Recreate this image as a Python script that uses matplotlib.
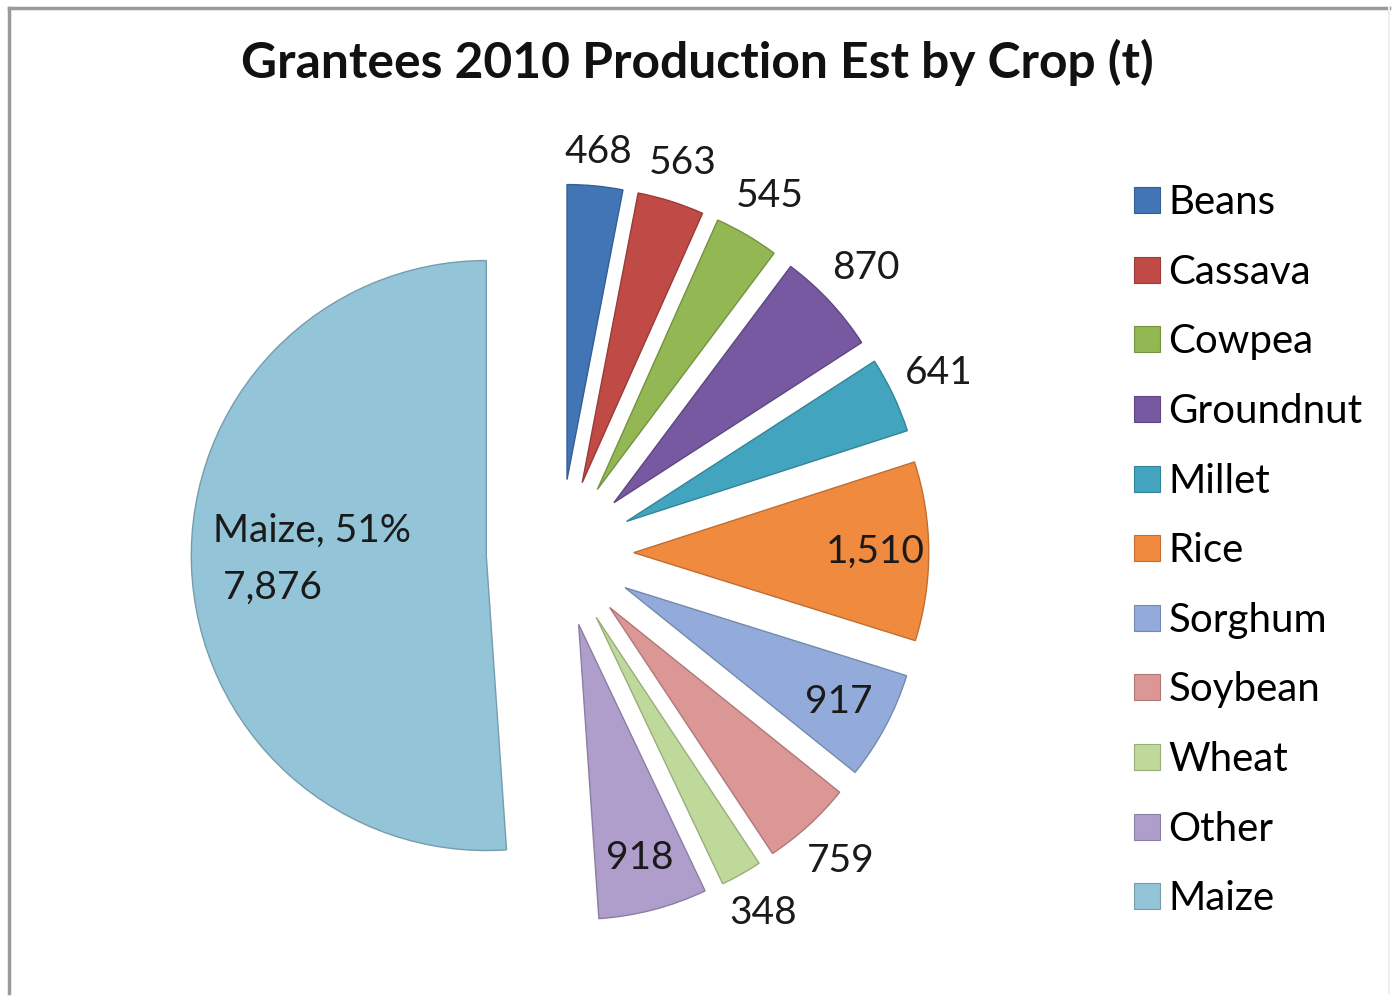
import numpy as np
import matplotlib
matplotlib.use("Agg")
import matplotlib.pyplot as plt
from matplotlib.lines import Line2D
from matplotlib.colors import to_rgb

plt.rcParams['font.family'] = ['Lato', 'DejaVu Sans']

crops = ["Beans", "Cassava", "Cowpea", "Groundnut", "Millet", "Rice",
         "Sorghum", "Soybean", "Wheat", "Other", "Maize"]
tonnes = [468, 563, 545, 870, 641, 1510, 917, 759, 348, 918, 7876]
colors = ["#4275B6", "#BF4A46", "#92B753", "#7659A0", "#42A4BF", "#F08A3E",
          "#92ABDA", "#DB9795", "#BFD99A", "#AF9ECB", "#93C4D8"]
# labels drawn inside the slice
inside = ["Rice", "Sorghum", "Other"]

W, H = 1394, 998
fig = plt.figure(figsize=(W / 100, H / 100), dpi=100)
ax = fig.add_axes([0, 0, 1, 1])

cx, cy, R = 560, H - 553, 295
# pie explode is in data units here, so scale by radius
explode = [0.25 * R] * len(tonnes)
edges = [tuple(c * 0.8 for c in to_rgb(col)) for col in colors]

wedges, _ = ax.pie(tonnes, colors=colors, explode=explode, startangle=90,
                   counterclock=False, radius=R, center=(cx, cy),
                   wedgeprops=dict(linewidth=1.0))
for w, ec in zip(wedges, edges):
    w.set_edgecolor(ec)

ax.set_xlim(0, W)
ax.set_ylim(0, H)
ax.set_aspect('equal')
ax.axis('off')

total = sum(tonnes)
for w, crop, val in zip(wedges, crops, tonnes):
    ang = np.deg2rad((w.theta1 + w.theta2) / 2)
    c, s = np.cos(ang), np.sin(ang)
    wx, wy = w.center
    if crop == "Maize":
        r = 0.59 * R
        txt = f"{crop}, {val / total:.0%}\n {val:,}"
        ax.text(wx + r * c, wy + r * s + 2, txt,
                ha='center', va='center', ma='left', fontsize=28,
                color='#1a1a1a', linespacing=1.72)
        continue
    txt = f"{val:,}"
    if crop in inside:
        r = 0.82 * R
    else:
        # outside end: clear the arc by a gap plus half the text box
        half_w, half_h = 10.7 * len(txt), 17
        r = R + 14 + abs(c) * half_w + abs(s) * half_h
    ax.text(wx + r * c, wy + r * s, txt,
            ha='center', va='center', fontsize=28, color='#1a1a1a')

handles = [Line2D([], [], marker='s', linestyle='none', markersize=18.5,
                  markerfacecolor=c, markeredgecolor=e, markeredgewidth=0.8)
           for c, e in zip(colors, edges)]
fig.legend(handles, crops, loc='upper left', bbox_to_anchor=(1112 / W, 1 - 168 / H),
           frameon=False, fontsize=29, labelspacing=0.81, handletextpad=0.05,
           handlelength=0.95, borderaxespad=0)

fig.text(0.5, 1 - 62 / H, "Grantees 2010 Production Est by Crop (t)",
         ha='center', va='center', fontsize=35.8, fontweight='bold', color='#111111')

# chart border
fig.add_artist(Line2D([9 / W, 9 / W], [0.005, 1 - 8 / H], color='#9a9a9a', lw=2.5,
                      transform=fig.transFigure))
fig.add_artist(Line2D([9 / W, 1389 / W], [1 - 8 / H, 1 - 8 / H], color='#9a9a9a', lw=2.5,
                      transform=fig.transFigure))
fig.add_artist(Line2D([1389 / W, 1389 / W], [0.005, 1 - 8 / H], color='#eeeeee', lw=1.5,
                      transform=fig.transFigure))

fig.savefig("out.png", dpi=100)
